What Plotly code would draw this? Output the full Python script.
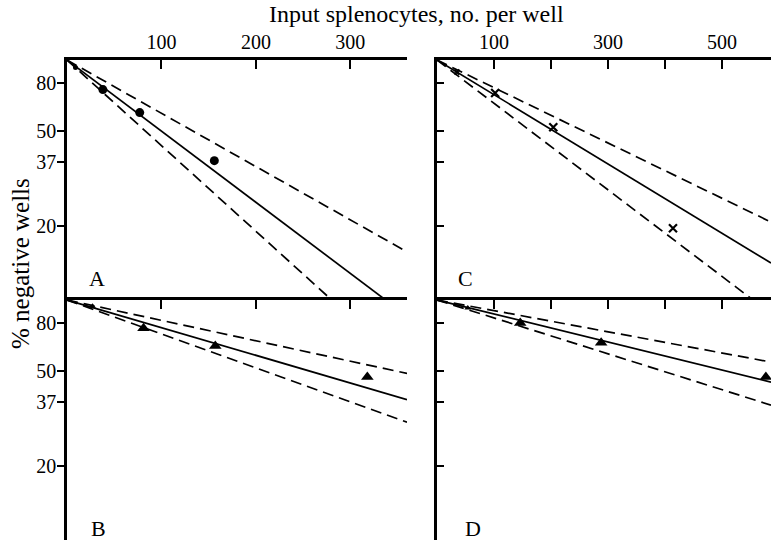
import plotly.graph_objects as go

W, H = 771, 543
FONT = "Liberation Serif"

# ---- data ----
# input splenocytes per well, % negative wells
A_x = [9, 38, 77, 156]
A_pct = [93, 75, 60, 37.6]
C_x = [35, 102, 204, 414]
C_pct = [89, 72.6, 52, 19.5]
B_x = [27, 81, 157, 318]
B_pct = [94, 76, 64, 47.3]
D_x = [54, 146, 288, 577]
D_pct = [92.5, 80, 66, 47.3]

# fitted line and confidence limits: value at x = 0 and at the right edge
left_fit_x = [0, 360]
right_fit_x = [0, 586]
A_fit = [100, 8.3]
A_upper = [100, 15.5]
A_lower = [100, 5.0]
B_fit = [100, 38.0]
B_upper = [100, 49.0]
B_lower = [100, 30.5]
C_fit = [100, 13.9]
C_upper = [100, 20.7]
C_lower = [100, 8.5]
D_fit = [100, 45.0]
D_upper = [100, 54.7]
D_lower = [100, 36.0]

y_ticks = [20, 37, 50, 80]
y_tick_text = ["20", "37", "50", "80"]
left_x_ticks = [100, 200, 300]
left_x_text = ["100", "200", "300"]
right_x_ticks = [100, 200, 300, 400, 500]
right_x_text = ["100", "", "300", "", "500"]

panels = [
    # name, xaxis, yaxis, data x, data y, fit x, fit, upper, lower, marker
    ("A", "x", "y", A_x, A_pct, left_fit_x, A_fit, A_upper, A_lower, "circle"),
    ("C", "x2", "y2", C_x, C_pct, right_fit_x, C_fit, C_upper, C_lower, "x-thin"),
    ("B", "x3", "y3", B_x, B_pct, left_fit_x, B_fit, B_upper, B_lower, "triangle-up"),
    ("D", "x4", "y4", D_x, D_pct, right_fit_x, D_fit, D_upper, D_lower, "triangle-up"),
]

fig = go.Figure()
for name, xa, ya, dx, dy, fx, fit, up, lo, sym in panels:
    for vals, dash in ((fit, "solid"), (up, "11px,6px"), (lo, "11px,6px")):
        fig.add_trace(go.Scatter(x=fx, y=vals, xaxis=xa, yaxis=ya, mode="lines",
                                 line=dict(color="black", width=1.7, dash=dash),
                                 showlegend=False, hoverinfo="skip"))
    n = len(dx)
    if sym == "x-thin":
        sizes = [5] + [8] * (n - 1)
        mk = dict(symbol="x-thin", size=sizes, color="black", opacity=1,
                  line=dict(color="black", width=2.2))
    elif sym == "circle":
        sizes = [5] + [9] * (n - 1)
        mk = dict(symbol=sym, size=sizes, color="black", opacity=1, line=dict(width=0))
    else:
        sizes = [6] + [11] * (n - 1)
        mk = dict(symbol=sym, size=sizes, color="black", opacity=1, line=dict(width=0))
    fig.add_trace(go.Scatter(x=dx, y=dy, xaxis=xa, yaxis=ya, mode="markers",
                             marker=mk, cliponaxis=False, showlegend=False))

def px(v):
    return v / W

def py(v):
    return 1 - v / H

xl = [px(67), px(407)]
xr = [px(437), 1.0]
yt = [py(300), py(60)]
yb = [py(540), py(300)]
yrange = [0.987, 2.0]

tick_font = dict(family=FONT, size=20, color="black")

def xaxis(domain, anchor, rng, tv, tt, labels):
    return dict(domain=domain, anchor=anchor, range=rng, side="top",
                showline=True, linecolor="black", linewidth=2.5, mirror=False,
                ticks="inside", ticklen=9, tickwidth=2, tickcolor="black",
                tickvals=tv, ticktext=tt, showticklabels=labels,
                showgrid=False, zeroline=False, tickfont=tick_font)

def yaxis(domain, anchor, labels):
    return dict(domain=domain, anchor=anchor, type="log", range=yrange,
                showline=True, linecolor="black", linewidth=2.5,
                ticks="outside" if labels else "inside", ticklen=7, tickwidth=2,
                tickcolor="black", tickvals=y_ticks, ticktext=y_tick_text,
                showticklabels=labels, showgrid=False, zeroline=False,
                ticklabelstandoff=-3, tickfont=tick_font)

fig.update_layout(
    width=W, height=H, margin=dict(l=0, r=0, t=0, b=0),
    paper_bgcolor="white", plot_bgcolor="white",
    xaxis=xaxis(xl, "y", [0, 360], left_x_ticks, left_x_text, True),
    yaxis=yaxis(yt, "x", True),
    xaxis2=xaxis(xr, "y2", [0, 586], right_x_ticks, right_x_text, True),
    yaxis2=yaxis(yt, "x2", False),
    xaxis3=xaxis(xl, "y3", [0, 360], left_x_ticks, left_x_text, False),
    yaxis3=yaxis(yb, "x3", True),
    xaxis4=xaxis(xr, "y4", [0, 586], right_x_ticks, right_x_text, False),
    yaxis4=yaxis(yb, "x4", False),
)

annos = [
    dict(text="Input splenocytes, no. per well", x=px(416), y=py(14), size=24, angle=0),
    dict(text="% negative wells", x=px(20), y=py(264), size=25, angle=-90),
    dict(text="A", x=px(97), y=py(278), size=22, angle=0),
    dict(text="C", x=px(466), y=py(278), size=22, angle=0),
    dict(text="B", x=px(98), y=py(528), size=22, angle=0),
    dict(text="D", x=px(473), y=py(528), size=22, angle=0),
]
for a in annos:
    fig.add_annotation(text=a["text"], x=a["x"], y=a["y"], xref="paper", yref="paper",
                       showarrow=False, textangle=a["angle"], xanchor="center", yanchor="middle",
                       font=dict(family=FONT, size=a["size"], color="black"))

fig.write_html("out.html")
